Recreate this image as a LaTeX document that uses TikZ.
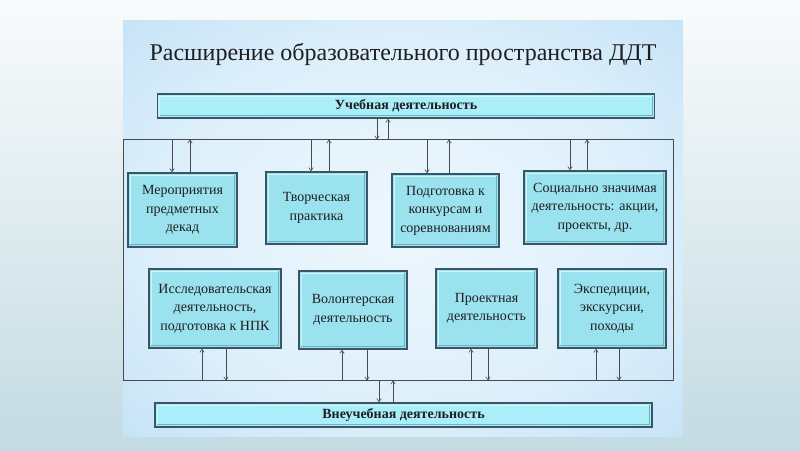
\documentclass[tikz,border=0pt]{standalone}
\usepackage{fontspec}
\setmainfont{Liberation Serif}
\usetikzlibrary{arrows.meta,calc}
\definecolor{bgtop}{HTML}{F9FBFC}
\definecolor{bgbot}{HTML}{C3DBE2}
\definecolor{pc}{HTML}{EEF7FD}
\definecolor{pm}{HTML}{DDEFFB}
\definecolor{pe}{HTML}{B6DBF4}
\definecolor{po}{HTML}{A4D2F1}
\definecolor{boxfill}{HTML}{9BE2EF}
\definecolor{boxedge}{HTML}{3A5563}
\definecolor{boxhi}{HTML}{CFF4FA}
\definecolor{boxlo}{HTML}{6CB3C4}
\definecolor{barfill}{HTML}{AAEEFA}
\definecolor{ink}{HTML}{1E1E1E}
\definecolor{linec}{HTML}{4A4A4A}
\pgfdeclareradialshading{panelshade}{\pgfpoint{0bp}{0bp}}{color(0bp)=(pc); color(22bp)=(pm); color(45bp)=(pe); color(60bp)=(po); color(80bp)=(po)}
\tikzset{
  bevel/.style={path picture={
      \draw[boxhi, line width=1.1pt]
        ([shift={(2.2pt,2.2pt)}]path picture bounding box.south west) --
        ([shift={(2.2pt,-2.2pt)}]path picture bounding box.north west) --
        ([shift={(-2.2pt,-2.2pt)}]path picture bounding box.north east);
      \draw[boxlo, line width=1.1pt]
        ([shift={(-2.2pt,-2.2pt)}]path picture bounding box.north east) --
        ([shift={(-2.2pt,2.2pt)}]path picture bounding box.south east) --
        ([shift={(2.2pt,2.2pt)}]path picture bounding box.south west);
  }},
  actbox/.style={draw=boxedge, line width=1.5pt, fill=boxfill, bevel, align=center,
    text=ink, inner sep=1pt, font=\fontsize{14}{18.5}\selectfont},
  bar/.style={draw=boxedge, line width=1.6pt, fill=barfill, bevel, text=ink,
    minimum width=497pt, minimum height=24pt, inner sep=0pt,
    font=\fontsize{14}{16}\selectfont\bfseries},
  arr/.style={draw=linec, line width=0.6pt, -{Straight Barb[length=3.2pt,width=4.5pt]}},
}
\begin{document}
\begin{tikzpicture}[x=1pt,y=-1pt]
\useasboundingbox (0,0) rectangle (800,450);
\shade[top color=bgtop, bottom color=bgbot] (0,0) rectangle (800,450);
\shade[shading=panelshade] (123,20) rectangle (683,436);
\node[font=\fontsize{24}{26}\selectfont, text=ink] (title) at (403,54) {Расширение образовательного пространства ДДТ};
\node[bar] (top) at (406,106) {Учебная деятельность};
\node[bar] (bot) at (403.5,415) {Внеучебная деятельность};
\node[draw=linec, line width=0.8pt, minimum width=550pt, minimum height=241pt, inner sep=0pt, outer sep=0pt, anchor=north west] (frame) at (123,139.5) {};
\node[actbox, minimum width=109pt, minimum height=74pt] (b1) at (182.5,210) {Мероприятия\\предметных\\декад};
\node[actbox, minimum width=101pt, minimum height=72pt] (b2) at (316.5,208) {Творческая\\практика};
\node[actbox, minimum width=107pt, minimum height=73pt] (b3) at (445.5,210.5) {Подготовка к\\конкурсам и\\соревнованиям};
\node[actbox, minimum width=142pt, minimum height=73pt] (b4) at (595,207.5) {Социально значимая\\деятельность: акции,\\проекты, др.};
\node[actbox, minimum width=132pt, minimum height=79pt] (b5) at (215,308.5) {Исследовательская\\деятельность,\\подготовка к НПК};
\node[actbox, minimum width=108pt, minimum height=78pt] (b6) at (353,310) {Волонтерская\\деятельность};
\node[actbox, minimum width=101pt, minimum height=79pt] (b7) at (486.5,308.5) {Проектная\\деятельность};
\node[actbox, minimum width=108pt, minimum height=79pt] (b8) at (612,308.5) {Экспедиции,\\экскурсии,\\походы};
% top bar <-> frame
\draw[arr] (377,0 |- top.south) -- (377,0 |- frame.north);
\draw[arr] (388,0 |- frame.north) -- (388,0 |- top.south);
% row 1
\draw[arr] (172,0 |- frame.north) -- (172,0 |- b1.north);
\draw[arr] (190,0 |- b1.north) -- (190,0 |- frame.north);
\draw[arr] (311,0 |- frame.north) -- (311,0 |- b2.north);
\draw[arr] (329,0 |- b2.north) -- (329,0 |- frame.north);
\draw[arr] (427,0 |- frame.north) -- (427,0 |- b3.north);
\draw[arr] (449,0 |- b3.north) -- (449,0 |- frame.north);
\draw[arr] (570,0 |- frame.north) -- (570,0 |- b4.north);
\draw[arr] (587,0 |- b4.north) -- (587,0 |- frame.north);
% row 2
\draw[arr] (202,0 |- frame.south) -- (202,0 |- b5.south);
\draw[arr] (226,0 |- b5.south) -- (226,0 |- frame.south);
\draw[arr] (342,0 |- frame.south) -- (342,0 |- b6.south);
\draw[arr] (367,0 |- b6.south) -- (367,0 |- frame.south);
\draw[arr] (471,0 |- frame.south) -- (471,0 |- b7.south);
\draw[arr] (488,0 |- b7.south) -- (488,0 |- frame.south);
\draw[arr] (596,0 |- frame.south) -- (596,0 |- b8.south);
\draw[arr] (619,0 |- b8.south) -- (619,0 |- frame.south);
% frame <-> bottom bar
\draw[arr] (379,0 |- frame.south) -- (379,0 |- bot.north);
\draw[arr] (393,0 |- bot.north) -- (393,0 |- frame.south);
\end{tikzpicture}
\end{document}
